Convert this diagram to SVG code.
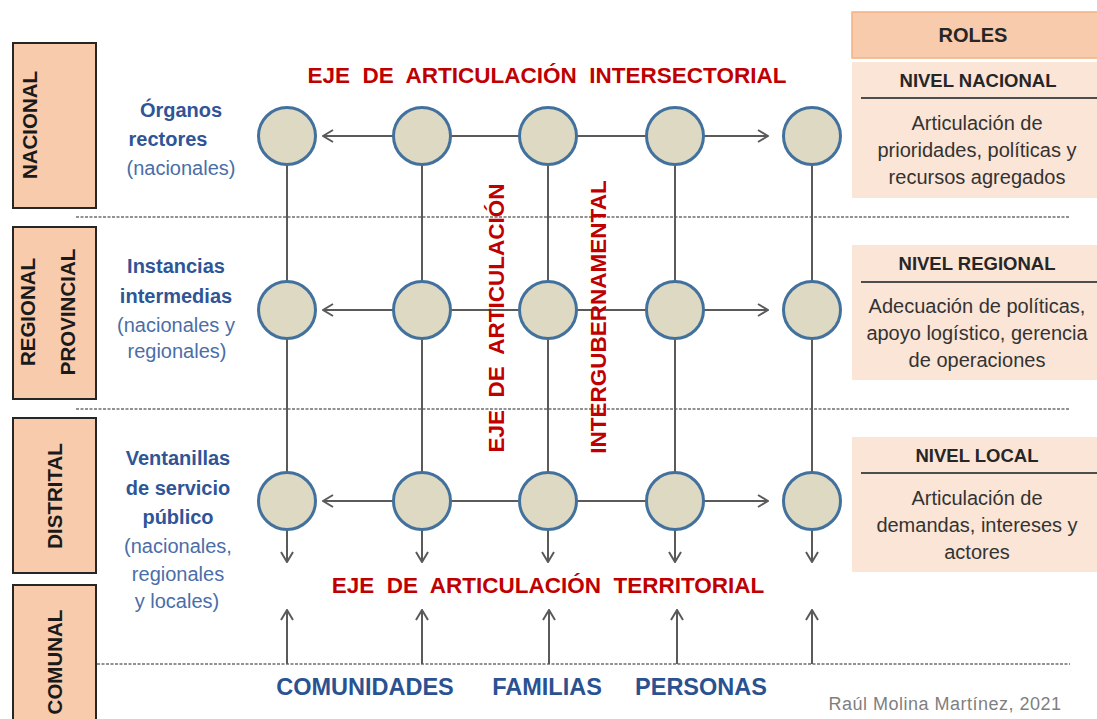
<svg xmlns="http://www.w3.org/2000/svg" width="1097" height="719" viewBox="0 0 1097 719">
<defs>
<style>
.lvl{fill:#F8CBAD;stroke:#262626;stroke-width:2}
.lvlt{font-family:"Liberation Sans",Arial,sans-serif;font-weight:bold;font-size:20.5px;fill:#1a1a1a;text-anchor:middle}
.nd{fill:#DDD9C3;stroke:#41719C;stroke-width:3}
.ln{stroke:#5a5a5a;stroke-width:2;fill:none}
.dash{stroke:#6f6f6f;stroke-width:1.5;stroke-dasharray:3 1.5;fill:none}
.bb{font-family:"Liberation Sans",Arial,sans-serif;font-weight:bold;font-size:20px;fill:#2F5597;text-anchor:middle}
.bn{font-family:"Liberation Sans",Arial,sans-serif;font-size:20px;fill:#4A6EA8;text-anchor:middle}
.red{font-family:"Liberation Sans",Arial,sans-serif;font-weight:bold;font-size:22.5px;fill:#C00000;text-anchor:middle;white-space:pre}
.bot{font-family:"Liberation Sans",Arial,sans-serif;font-weight:bold;font-size:23.5px;fill:#2A5291;text-anchor:middle}
.panel{fill:#FBE5D6}
.ph{font-family:"Liberation Sans",Arial,sans-serif;font-weight:bold;font-size:18.5px;fill:#262626;text-anchor:middle}
.pt{font-family:"Liberation Sans",Arial,sans-serif;font-size:20px;fill:#333333;text-anchor:middle}
.rule{stroke:#4d4d4d;stroke-width:2}
</style>
<marker id="arr" viewBox="0 0 12 14" refX="11" refY="7" markerWidth="12" markerHeight="14" markerUnits="userSpaceOnUse" orient="auto-start-reverse">
<path d="M1,1 L11,7 L1,13" fill="none" stroke="#5a5a5a" stroke-width="2"/>
</marker>
</defs>
<rect width="1097" height="719" fill="#ffffff"/>

<!-- dashed separators -->
<g id="separators">
<line class="dash" x1="76" y1="217" x2="1070" y2="217"/>
<line class="dash" x1="76" y1="409" x2="1070" y2="409"/>
<line class="dash" x1="97" y1="664" x2="1070" y2="664"/>
</g>

<!-- level boxes -->
<g id="lvl-nacional">
<rect class="lvl" x="13" y="43" width="83" height="165"/>
<text class="lvlt" transform="translate(37,125) rotate(-90)">NACIONAL</text>
</g>
<g id="lvl-regional">
<rect class="lvl" x="13" y="227" width="83" height="172"/>
<text class="lvlt" transform="translate(35,312) rotate(-90)">REGIONAL</text>
<text class="lvlt" transform="translate(75,312) rotate(-90)">PROVINCIAL</text>
</g>
<g id="lvl-distrital">
<rect class="lvl" x="13" y="418" width="83" height="155"/>
<text class="lvlt" transform="translate(62,496) rotate(-90)">DISTRITAL</text>
</g>
<g id="lvl-comunal">
<rect class="lvl" x="13" y="585" width="83" height="140"/>
<text class="lvlt" transform="translate(62,662) rotate(-90)">COMUNAL</text>
</g>

<!-- left labels -->
<g id="lbl-organos">
<text class="bb" x="181" y="117">Órganos</text>
<text class="bb" x="168" y="146">rectores</text>
<text class="bn" x="181" y="175">(nacionales)</text>
</g>
<g id="lbl-instancias">
<text class="bb" x="176" y="273">Instancias</text>
<text class="bb" x="176" y="303">intermedias</text>
<text class="bn" x="176" y="332">(nacionales y</text>
<text class="bn" x="177" y="358">regionales)</text>
</g>
<g id="lbl-ventanillas">
<text class="bb" x="178" y="465">Ventanillas</text>
<text class="bb" x="178" y="495">de servicio</text>
<text class="bb" x="178" y="524">público</text>
<text class="bn" x="178" y="553">(nacionales,</text>
<text class="bn" x="178" y="581">regionales</text>
<text class="bn" x="177" y="608">y locales)</text>
</g>

<!-- axis titles -->
<g id="axis-intersectorial"><text class="red" x="547" y="83">EJE  DE  ARTICULACIÓN  INTERSECTORIAL</text></g>
<g id="axis-territorial"><text class="red" x="548" y="593">EJE  DE  ARTICULACIÓN  TERRITORIAL</text></g>

<!-- connectors -->
<g id="connectors">
<line class="ln" x1="287" y1="136" x2="287" y2="562" marker-end="url(#arr)"/>
<line class="ln" x1="422" y1="136" x2="422" y2="562" marker-end="url(#arr)"/>
<line class="ln" x1="548" y1="136" x2="548" y2="562" marker-end="url(#arr)"/>
<line class="ln" x1="675" y1="136" x2="675" y2="562" marker-end="url(#arr)"/>
<line class="ln" x1="812" y1="136" x2="812" y2="562" marker-end="url(#arr)"/>
<line class="ln" x1="323" y1="136" x2="768" y2="136" marker-start="url(#arr)" marker-end="url(#arr)"/>
<line class="ln" x1="323" y1="310" x2="768" y2="310" marker-start="url(#arr)" marker-end="url(#arr)"/>
<line class="ln" x1="323" y1="501" x2="768" y2="501" marker-start="url(#arr)" marker-end="url(#arr)"/>
<line class="ln" x1="287" y1="664" x2="287" y2="610" marker-end="url(#arr)"/>
<line class="ln" x1="422" y1="664" x2="422" y2="610" marker-end="url(#arr)"/>
<line class="ln" x1="549" y1="664" x2="549" y2="610" marker-end="url(#arr)"/>
<line class="ln" x1="677" y1="664" x2="677" y2="610" marker-end="url(#arr)"/>
<line class="ln" x1="812" y1="664" x2="812" y2="610" marker-end="url(#arr)"/>
</g>

<!-- vertical axis titles -->
<g id="axis-intergubernamental">
<text class="red" transform="translate(504,318) rotate(-90)">EJE  DE  ARTICULACIÓN</text>
<text class="red" transform="translate(606,317) rotate(-90)">INTERGUBERNAMENTAL</text>
</g>

<!-- nodes -->
<g id="n-1-1"><circle class="nd" cx="287" cy="136" r="28.5"/></g>
<g id="n-1-2"><circle class="nd" cx="422" cy="136" r="28.5"/></g>
<g id="n-1-3"><circle class="nd" cx="548" cy="136" r="28.5"/></g>
<g id="n-1-4"><circle class="nd" cx="675" cy="136" r="28.5"/></g>
<g id="n-1-5"><circle class="nd" cx="812" cy="136" r="28.5"/></g>
<g id="n-2-1"><circle class="nd" cx="287" cy="310" r="28.5"/></g>
<g id="n-2-2"><circle class="nd" cx="422" cy="310" r="28.5"/></g>
<g id="n-2-3"><circle class="nd" cx="548" cy="310" r="28.5"/></g>
<g id="n-2-4"><circle class="nd" cx="675" cy="310" r="28.5"/></g>
<g id="n-2-5"><circle class="nd" cx="812" cy="310" r="28.5"/></g>
<g id="n-3-1"><circle class="nd" cx="287" cy="501" r="28.5"/></g>
<g id="n-3-2"><circle class="nd" cx="422" cy="501" r="28.5"/></g>
<g id="n-3-3"><circle class="nd" cx="548" cy="501" r="28.5"/></g>
<g id="n-3-4"><circle class="nd" cx="675" cy="501" r="28.5"/></g>
<g id="n-3-5"><circle class="nd" cx="812" cy="501" r="28.5"/></g>

<!-- bottom labels -->
<g id="lbl-bottom">
<text class="bot" x="365" y="695">COMUNIDADES</text>
<text class="bot" x="547" y="695">FAMILIAS</text>
<text class="bot" x="701" y="695">PERSONAS</text>
</g>

<!-- roles panel -->
<g id="roles">
<rect x="852" y="12" width="250" height="46" fill="#F8CBAD" stroke="#F4B183" stroke-width="1.5"/>
<text class="ph" x="973" y="42" style="font-size:20px">ROLES</text>
</g>
<g id="nivel-nacional">
<rect class="panel" x="852" y="62" width="245" height="136"/>
<text class="ph" x="978" y="87">NIVEL NACIONAL</text>
<line class="rule" x1="861" y1="98" x2="1097" y2="98"/>
<text class="pt" x="977" y="130">Articulación de</text>
<text class="pt" x="977" y="157">prioridades, políticas y</text>
<text class="pt" x="977" y="184">recursos agregados</text>
</g>
<g id="nivel-regional">
<rect class="panel" x="852" y="245" width="245" height="135"/>
<text class="ph" x="977" y="270">NIVEL REGIONAL</text>
<line class="rule" x1="861" y1="282" x2="1097" y2="282"/>
<text class="pt" x="977" y="313">Adecuación de políticas,</text>
<text class="pt" x="977" y="340">apoyo logístico, gerencia</text>
<text class="pt" x="977" y="367">de operaciones</text>
</g>
<g id="nivel-local">
<rect class="panel" x="852" y="437" width="245" height="135"/>
<text class="ph" x="977" y="462">NIVEL LOCAL</text>
<line class="rule" x1="861" y1="473" x2="1097" y2="473"/>
<text class="pt" x="977" y="505">Articulación de</text>
<text class="pt" x="977" y="532">demandas, intereses y</text>
<text class="pt" x="977" y="559">actores</text>
</g>

<g id="credit">
<text x="945" y="710" font-family="Liberation Sans, Arial, sans-serif" font-size="18" letter-spacing="0.5" fill="#7F7F7F" text-anchor="middle">Raúl Molina Martínez, 2021</text>
</g>
</svg>
